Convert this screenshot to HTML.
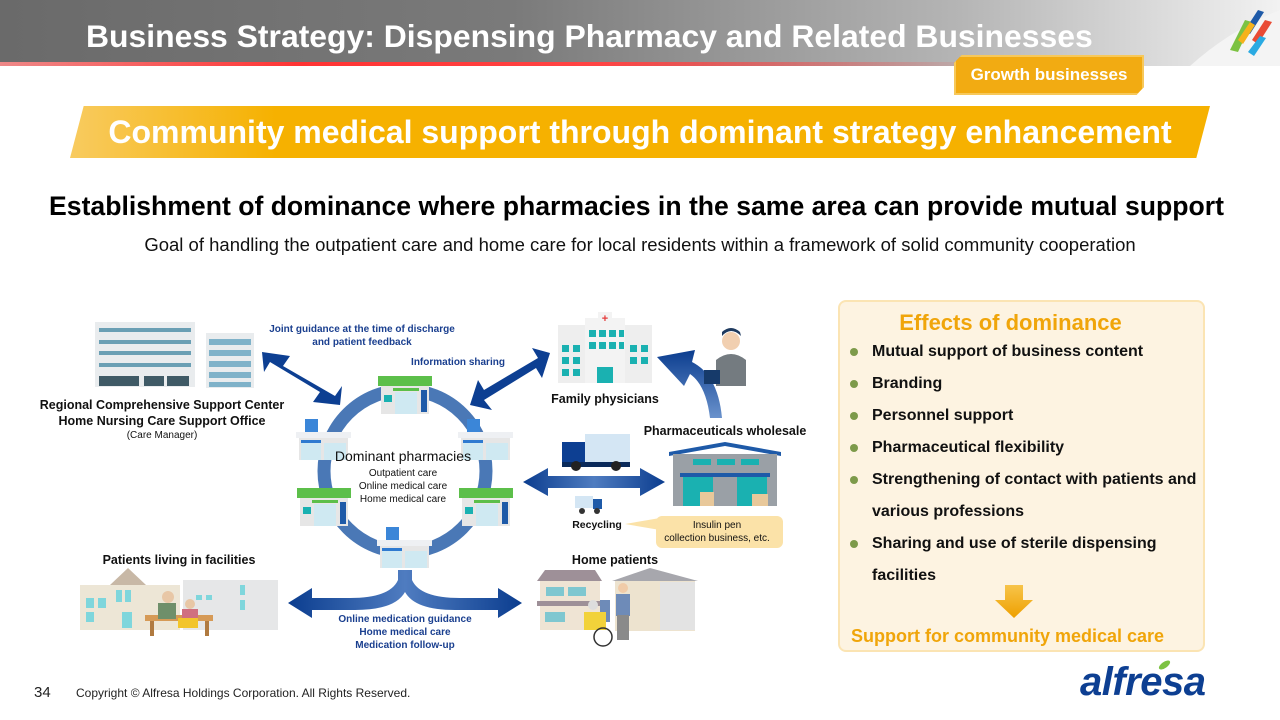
<!DOCTYPE html>
<html><head><meta charset="utf-8"><style>
*{margin:0;padding:0;box-sizing:border-box}
body{width:1280px;height:720px;background:#fff;font-family:"Liberation Sans",Arial,sans-serif;position:relative;overflow:hidden}
.abs{position:absolute}
.hdr{left:0;top:0;width:1280px;height:66px;background:linear-gradient(90deg,#6a6a6a 0%,#7a7a7a 40%,#b5b5b5 75%,#f2f2f2 100%)}
.red{left:0;top:62px;width:1000px;height:4px;background:linear-gradient(90deg,#e88 0%,#f33 30%,#f44 60%,rgba(255,120,120,0) 100%)}
.title{left:86px;top:18px;color:#fff;font-size:31.9px;font-weight:bold;white-space:nowrap}
.tab{left:954px;top:55px;width:190px;height:40px;background:#f2ab12;border:2px solid #f7c85a;box-shadow:2px 2px 2px #ccc;color:#fff;font-weight:bold;font-size:17px;text-align:center;line-height:36px;clip-path:polygon(4% 0,100% 0,100% 80%,96% 100%,0 100%,0 20%)}
.ban{left:70px;top:106px;width:1140px;height:52px;background:linear-gradient(90deg,#f8cb60 0%,#f6b100 18%,#f6b100 100%);clip-path:polygon(1.2% 0,100% 0,98.8% 100%,0 100%)}
.bant{left:70px;top:114px;width:1140px;text-align:center;color:#fff;font-weight:bold;font-size:32px;white-space:nowrap}
.h2{left:0;top:191px;width:1273px;text-align:center;font-weight:bold;font-size:26.6px;color:#000;white-space:nowrap}
.sub{left:0;top:234px;width:1280px;text-align:center;font-size:18.5px;color:#111;white-space:nowrap}
.box{left:838px;top:300px;width:367px;height:352px;background:#fdf3e1;border:2px solid #fbe4b3;border-radius:8px}
.eff{left:838px;top:310px;width:345px;text-align:center;color:#f0a50a;font-weight:bold;font-size:22px}
.li{left:872px;font-size:16px;font-weight:bold;color:#111}
.dot{left:850px;width:8px;height:8px;border-radius:50%;background:#7d9a4a}
.sup{left:851px;top:626px;color:#f0a50a;font-weight:bold;font-size:18px}
.foot{top:685px;font-size:11px;color:#222}
</style></head><body>
<div class="abs hdr"></div>
<div class="abs red"></div>
<svg class="abs" style="left:1190px;top:0" width="90" height="66">
<path d="M0 66 Q40 30 90 10 L90 66Z" fill="#f4f4f4"/>
<path d="M40 50 L55 20 L62 22 L48 52Z" fill="#7cc242"/>
<path d="M55 30 L68 10 L74 12 L60 34Z" fill="#1e5aa8"/>
<path d="M62 40 L75 20 L82 22 L68 44Z" fill="#e94b35"/>
<path d="M58 52 L70 36 L76 38 L64 56Z" fill="#2aaae2"/>
<path d="M48 40 L60 22 L65 25 L53 44Z" fill="#f5b21b"/>
</svg>
<div class="abs title">Business Strategy: Dispensing Pharmacy and Related Businesses</div>
<div class="abs tab">Growth businesses</div>
<div class="abs ban"></div>
<div class="abs bant">Community medical support through dominant strategy enhancement</div>
<div class="abs h2">Establishment of dominance where pharmacies in the same area can provide mutual support</div>
<div class="abs sub">Goal of handling the outpatient care and home care for local residents within a framework of solid community cooperation</div>

<svg class="abs" style="left:0;top:0" width="840" height="720">
<defs>
<linearGradient id="ag" x1="0" x2="1"><stop offset="0" stop-color="#0b3d8f"/><stop offset="0.5" stop-color="#4f7cc0"/><stop offset="1" stop-color="#0b3d8f"/></linearGradient>
<linearGradient id="ag2" x1="0" x2="0" y1="0" y2="1"><stop offset="0" stop-color="#0b3d8f"/><stop offset="1" stop-color="#6a92cc"/></linearGradient>
<g id="grn"><rect x="0" y="0" width="54" height="10" fill="#5cbf4a"/><rect x="3" y="10" width="48" height="28" fill="#e6e6e6"/><rect x="15" y="12" width="26" height="3" fill="#5cbf4a"/><rect x="17" y="16" width="22" height="22" fill="#cfe9f2"/><rect x="6" y="19" width="8" height="7" fill="#1ab1b1"/><rect x="43" y="14" width="6" height="22" fill="#1e5aa8"/></g>
<g id="drg"><rect x="9" y="0" width="13" height="13" fill="#3b86d8"/><rect x="0" y="13" width="55" height="6" fill="#eef0f3"/><rect x="3" y="19" width="49" height="22" fill="#e6e6e6"/><rect x="5" y="21" width="20" height="3" fill="#2f7ad0"/><rect x="5" y="24" width="20" height="17" fill="#cfe9f2"/><rect x="28" y="24" width="22" height="17" fill="#cfe9f2"/></g>
</defs>
<rect x="95" y="322" width="100" height="65" fill="#e9ecee"/>
<g fill="#6a9fb4"><rect x="99" y="328" width="92" height="4"/><rect x="99" y="340" width="92" height="4"/><rect x="99" y="351" width="92" height="4"/><rect x="99" y="363" width="92" height="4"/></g>
<g fill="#3f5a66"><rect x="99" y="376" width="40" height="10"/><rect x="144" y="376" width="20" height="10"/><rect x="167" y="376" width="22" height="10"/></g>
<rect x="206" y="333" width="48" height="55" fill="#e9ecee"/>
<g fill="#7fb2c9"><rect x="209" y="339" width="42" height="6"/><rect x="209" y="350" width="42" height="6"/><rect x="209" y="361" width="42" height="6"/><rect x="209" y="372" width="42" height="6"/><rect x="209" y="382" width="42" height="5"/></g>
<g font-weight="bold" font-size="12.5" fill="#111" text-anchor="middle">
<text x="162" y="409">Regional Comprehensive Support Center</text>
<text x="162" y="425">Home Nursing Care Support Office</text>
<text x="179" y="564">Patients living in facilities</text>
<text x="605" y="403">Family physicians</text>
<text x="725" y="435">Pharmaceuticals wholesale</text>
<text x="615" y="564">Home patients</text>
</g>
<text x="162" y="438" font-size="10" text-anchor="middle" fill="#111">(Care Manager)</text>
<rect x="80" y="585" width="100" height="45" fill="#ede6d6"/><path d="M110 585 L128 568 L146 585Z" fill="#c8b8a6"/>
<g fill="#7fd6dc"><rect x="86" y="598" width="8" height="10"/><rect x="98" y="598" width="8" height="10"/><rect x="116" y="590" width="6" height="12"/><rect x="125" y="590" width="6" height="12"/><rect x="86" y="612" width="8" height="10"/><rect x="122" y="612" width="10" height="16"/></g>
<rect x="183" y="580" width="95" height="50" fill="#e6e7e8"/><g fill="#7fd6dc"><rect x="240" y="585" width="5" height="10"/><rect x="240" y="600" width="5" height="10"/><rect x="196" y="595" width="6" height="5"/><rect x="206" y="595" width="6" height="5"/></g>
<rect x="145" y="615" width="68" height="6" fill="#d69a56"/><rect x="150" y="621" width="4" height="15" fill="#b07a40"/><rect x="205" y="621" width="4" height="15" fill="#b07a40"/>
<circle cx="168" cy="597" r="6" fill="#e8c7a6"/><rect x="158" y="603" width="18" height="16" fill="#6f8f6a"/>
<circle cx="190" cy="604" r="5" fill="#e8c7a6"/><rect x="182" y="609" width="16" height="12" fill="#d07080"/><rect x="178" y="618" width="20" height="10" fill="#f2c52c"/>
<circle cx="405" cy="471" r="81" fill="none" stroke="#4a78b6" stroke-width="13"/>
<use href="#grn" x="378" y="376"/>
<use href="#drg" x="296" y="419"/>
<use href="#drg" x="458" y="419"/>
<use href="#grn" x="297" y="488"/>
<use href="#grn" x="459" y="488"/>
<use href="#drg" x="377" y="527"/>
<text x="403" y="461" font-size="14" text-anchor="middle" fill="#111">Dominant pharmacies</text>
<g font-size="10" text-anchor="middle" fill="#111"><text x="403" y="476">Outpatient care</text><text x="403" y="489">Online medical care</text><text x="403" y="502">Home medical care</text></g>
<g fill="#0d3f92">
<path d="M262 352 L290 356 L283 366 L335 396 L342 386 L340 405 L313 402 L320 392 L270 362 L264 372Z"/>
<path d="M470 405 L478 380 L484 390 L538 358 L532 348 L550 353 L542 378 L536 368 L484 400 L492 410Z"/>
</g>
<path d="M523 482 L548 468 L548 476 L640 476 L640 468 L665 482 L640 496 L640 488 L548 488 L548 496Z" fill="url(#ag)"/>
<path d="M398 570 L412 570 L412 580 Q420 598 460 598 L498 598 L498 588 L522 603 L498 618 L498 610 L455 610 Q415 610 405 592 Q395 610 355 610 L312 610 L312 618 L288 603 L312 588 L312 598 L350 598 Q390 598 398 580Z" fill="url(#ag)"/>
<path d="M722 418 L710 418 Q706 385 690 374 L684 386 L657 357 L695 350 L692 362 Q718 375 722 418Z" fill="url(#ag2)"/>
<g font-size="10" font-weight="bold" fill="#1a3f8f" text-anchor="middle">
<text x="362" y="332">Joint guidance at the time of discharge</text>
<text x="362" y="345">and patient feedback</text>
<text x="458" y="365">Information sharing</text>
<text x="405" y="622">Online medication guidance</text>
<text x="405" y="635">Home medical care</text>
<text x="405" y="648">Medication follow-up</text>
</g>
<rect x="558" y="325" width="94" height="58" fill="#eeeeee"/><rect x="585" y="318" width="40" height="65" fill="#f3f3f3"/><rect x="598" y="312" width="14" height="10" fill="#f3f3f3"/>
<text x="605" y="322" font-size="11" fill="#e53a3a" text-anchor="middle" font-weight="bold">+</text>
<g fill="#1ab1b1"><rect x="589" y="330" width="7" height="7"/><rect x="599" y="330" width="7" height="7"/><rect x="609" y="330" width="7" height="7"/><rect x="619" y="330" width="5" height="7"/><rect x="589" y="342" width="7" height="7"/><rect x="599" y="342" width="7" height="7"/><rect x="609" y="342" width="7" height="7"/><rect x="619" y="342" width="5" height="7"/><rect x="562" y="345" width="7" height="7"/><rect x="573" y="345" width="7" height="7"/><rect x="562" y="357" width="7" height="7"/><rect x="573" y="357" width="7" height="7"/><rect x="562" y="369" width="7" height="7"/><rect x="573" y="369" width="7" height="7"/><rect x="630" y="345" width="7" height="7"/><rect x="641" y="345" width="7" height="7"/><rect x="630" y="357" width="7" height="7"/><rect x="641" y="357" width="7" height="7"/><rect x="597" y="367" width="16" height="16"/></g>
<circle cx="731" cy="341" r="9" fill="#f1cfb0"/><path d="M722 336 Q731 326 741 336 L740 332 Q731 324 722 332Z" fill="#1e3a5f"/>
<path d="M716 386 L716 360 Q731 348 746 360 L746 386Z" fill="#747b80"/><rect x="704" y="370" width="16" height="14" fill="#163a6a"/>
<rect x="585" y="434" width="45" height="28" fill="#d4e6f4"/><rect x="562" y="442" width="23" height="22" fill="#0d3f92"/><rect x="562" y="462" width="68" height="5" fill="#0a2a5a"/>
<circle cx="576" cy="466" r="5" fill="#222"/><circle cx="616" cy="466" r="5" fill="#222"/>
<rect x="575" y="496" width="18" height="12" fill="#d4e6f4"/><rect x="593" y="499" width="9" height="10" fill="#1e5aa8"/><circle cx="582" cy="511" r="3" fill="#333"/><circle cx="597" cy="511" r="3" fill="#333"/>
<text x="597" y="528" font-size="10.5" font-weight="bold" fill="#111" text-anchor="middle">Recycling</text>
<path d="M625 524 L660 518 L660 530Z" fill="#fbe2a8"/>
<rect x="656" y="516" width="127" height="32" rx="6" fill="#fbe2a8"/>
<g font-size="10" fill="#111" text-anchor="middle"><text x="717" y="528">Insulin pen</text><text x="717" y="541">collection business, etc.</text></g>
<path d="M669 452 L725 442 L781 452 L781 456 L725 446 L669 456Z" fill="#1e5aa8"/>
<rect x="673" y="454" width="104" height="52" fill="#9aa0a6"/>
<g fill="#1ab1b1"><rect x="693" y="459" width="18" height="6"/><rect x="717" y="459" width="18" height="6"/><rect x="741" y="459" width="18" height="6"/><rect x="683" y="476" width="30" height="30"/><rect x="737" y="476" width="30" height="30"/></g>
<rect x="680" y="473" width="90" height="4" fill="#1e5aa8"/>
<rect x="700" y="492" width="14" height="14" fill="#e8c89a"/><rect x="752" y="494" width="16" height="12" fill="#e8c89a"/>
<path d="M537 581 L545 570 L595 570 L602 581Z" fill="#9e9098"/><rect x="540" y="581" width="60" height="20" fill="#efe4d4"/><rect x="546" y="587" width="18" height="9" fill="#7fc7d0"/><rect x="568" y="587" width="18" height="9" fill="#7fc7d0"/>
<rect x="537" y="601" width="66" height="5" fill="#9e9098"/><rect x="540" y="606" width="60" height="24" fill="#efe4d4"/><rect x="545" y="612" width="20" height="10" fill="#7fc7d0"/>
<path d="M612 581 L650 568 L698 581Z" fill="#a7a7ad"/><rect x="615" y="581" width="80" height="50" fill="#ede3cf"/><rect x="660" y="582" width="35" height="48" fill="#e3e3e3"/>
<rect x="600" y="600" width="10" height="22" fill="#6e8bb8"/><circle cx="623" cy="588" r="5" fill="#f0cba8"/><rect x="616" y="594" width="14" height="22" fill="#6e8bb8"/><rect x="617" y="615" width="12" height="25" fill="#8a8a8a"/>
<rect x="584" y="612" width="22" height="18" fill="#f2d23a"/><circle cx="603" cy="637" r="9" fill="none" stroke="#333" stroke-width="1.5"/><circle cx="593" cy="605" r="5" fill="#ddd"/>
</svg>

<div class="abs box"></div>
<div class="abs eff">Effects of dominance</div>
<div class="abs dot" style="top:348px"></div><div class="abs li" style="top:343px">Mutual support of business content</div>
<div class="abs dot" style="top:380px"></div><div class="abs li" style="top:375px">Branding</div>
<div class="abs dot" style="top:412px"></div><div class="abs li" style="top:407px">Personnel support</div>
<div class="abs dot" style="top:444px"></div><div class="abs li" style="top:439px">Pharmaceutical flexibility</div>
<div class="abs dot" style="top:476px"></div><div class="abs li" style="top:471px">Strengthening of contact with patients and</div>
<div class="abs li" style="top:503px">various professions</div>
<div class="abs dot" style="top:540px"></div><div class="abs li" style="top:535px">Sharing and use of sterile dispensing</div>
<div class="abs li" style="top:567px">facilities</div>
<svg class="abs" style="left:995px;top:585px" width="40" height="34"><defs><linearGradient id="og" x1="0" x2="0" y1="0" y2="1"><stop offset="0" stop-color="#f7c44a"/><stop offset="1" stop-color="#eea000"/></linearGradient></defs><path d="M10 0 L28 0 L28 15 L38 15 L19 33 L0 15 L10 15Z" fill="url(#og)"/></svg>
<div class="abs sup">Support for community medical care</div>

<div class="abs foot" style="left:34px;top:684px;font-size:15px">34</div>
<div class="abs foot" style="left:76px;top:686px;font-size:12px">Copyright © Alfresa Holdings Corporation. All Rights Reserved.</div>
<div class="abs" style="left:1080px;top:660px;font-size:40px;font-style:italic;font-weight:bold;color:#0d3f92;letter-spacing:-0.5px">alfresa</div>
<div class="abs" style="left:1158px;top:662px;width:13px;height:6px;background:#7cc242;border-radius:50%;transform:rotate(-35deg)"></div>
</body></html>
